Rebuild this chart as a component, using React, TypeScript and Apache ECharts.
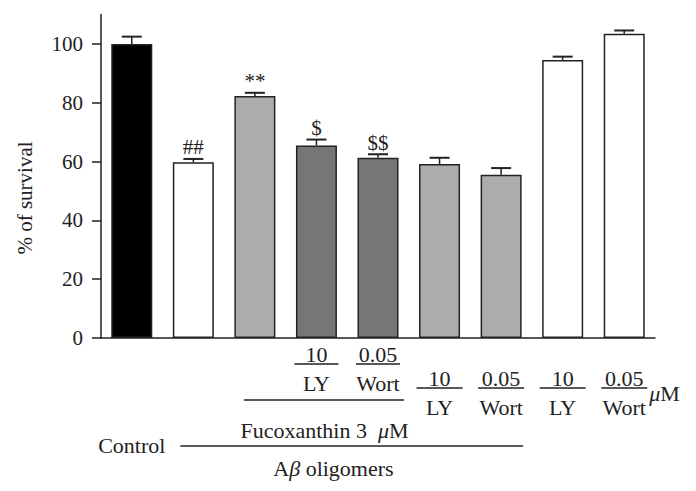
import React, { useEffect, useRef } from "react";
import * as echarts from "echarts";

const categories = ["Control", "Abeta", "Fx", "Fx+LY", "Fx+Wort", "Abeta+LY", "Abeta+Wort", "LY", "Wort"];
const means = [100, 59.8, 82.3, 65.5, 61.3, 59.2, 55.5, 94.6, 103.5];
const errors = [2.5, 1.1, 1.1, 2.0, 1.2, 2.1, 2.3, 1.1, 1.1];
const barColors = ["#000000", "#ffffff", "#acacac", "#767676", "#767676", "#acacac", "#acacac", "#ffffff", "#ffffff"];
const marks = ["", "##", "**", "$", "$$", "", "", "", ""];
const yTicks = [0, 20, 40, 60, 80, 100];
const doses = ["", "", "", "10", "0.05", "10", "0.05", "10", "0.05"];
const inhibitors = ["", "", "", "LY", "Wort", "LY", "Wort", "LY", "Wort"];

const FONT = '"Liberation Serif", "DejaVu Serif", serif';
const INK = "#222222";
const LBL = 22;

export default function App() {
  const ref = useRef<HTMLDivElement>(null);
  useEffect(() => {
    if (!ref.current) return;
    const chart = echarts.init(ref.current, null, { renderer: "svg" });
    chart.setOption({
      animation: false,
      grid: { left: 101, right: 41, top: 14.6, bottom: 153 },
      xAxis: {
        type: "category",
        data: categories,
        axisLine: { lineStyle: { color: INK, width: 1.5 } },
        axisTick: { show: false },
        axisLabel: { show: false },
      },
      yAxis: {
        type: "value",
        min: 0,
        max: 110,
        interval: 20,
        splitLine: { show: false },
        axisLine: { show: true, lineStyle: { color: INK, width: 1.5 } },
        axisTick: { show: true, length: 9, customValues: yTicks, lineStyle: { color: INK, width: 1.5 } },
        axisLabel: { customValues: yTicks, fontSize: 21, fontFamily: FONT, color: INK, margin: 18 },
      },
      series: [
        {
          type: "bar",
          barWidth: 41,
          data: means.map((v, i) => ({ value: v, itemStyle: { color: barColors[i] } })),
          itemStyle: { borderColor: INK, borderWidth: 1.5 },
        },
        {
          type: "custom",
          z: 5,
          data: means.map((m, i) => [i, m, errors[i]]),
          renderItem: (params: any, api: any) => {
            const i = api.value(0);
            const top = api.value(1);
            const err = api.value(2);
            const p0 = api.coord([i, top]);
            const p1 = api.coord([i, top + err]);
            const half = 10;
            const mark = marks[params.dataIndex];
            const children: any[] = [
              { type: "line", shape: { x1: p0[0], y1: p0[1], x2: p1[0], y2: p1[1] }, style: { stroke: INK, lineWidth: 1.5 } },
              { type: "line", shape: { x1: p1[0] - half, y1: p1[1], x2: p1[0] + half, y2: p1[1] }, style: { stroke: INK, lineWidth: 2 } },
            ];
            if (mark) {
              children.push({
                type: "text",
                style: { text: mark, x: p1[0], y: p1[1] - 1, align: "center", verticalAlign: "bottom", fontSize: 21, fontFamily: FONT, fill: INK },
              });
            }
            return { type: "group", children };
          },
        },
      ],
    });

    const xs = categories.map((_, i) => chart.convertToPixel({ xAxisIndex: 0 }, i) as number);
    const txt = (text: string, x: number, y: number, extra: any = {}) => ({
      type: "text",
      x,
      y,
      style: { text, align: "center", verticalAlign: "middle", fontSize: LBL, fontFamily: FONT, fill: INK, ...extra },
    });
    const ln = (x1: number, x2: number, y: number) => ({
      type: "line",
      shape: { x1, y1: y, x2, y2: y },
      style: { stroke: INK, lineWidth: 1.5 },
    });
    const rich = { i: { fontStyle: "italic", fontSize: LBL, fontFamily: FONT, fill: INK } };
    const g: any[] = [];
    for (let i = 3; i <= 4; i++) {
      g.push(txt(doses[i], xs[i], 354));
      g.push(ln(xs[i] - 22, xs[i] + 22, 364));
      g.push(txt(inhibitors[i], xs[i], 383));
    }
    for (let i = 5; i <= 8; i++) {
      g.push(txt(doses[i], xs[i], 378));
      g.push(ln(xs[i] - 23, xs[i] + 23, 388));
      g.push(txt(inhibitors[i], xs[i], 407));
    }
    g.push({
      type: "text",
      x: xs[8] + 25,
      y: 393,
      style: { text: "{i|μ}M", align: "left", verticalAlign: "middle", fontSize: LBL, fontFamily: FONT, fill: INK, rich },
    });
    g.push(ln(xs[2] - 11, xs[4] + 26, 400));
    g.push({
      type: "text",
      x: xs[3] + 8,
      y: 430,
      style: { text: "Fucoxanthin 3  {i|μ}M", align: "center", verticalAlign: "middle", fontSize: LBL, fontFamily: FONT, fill: INK, rich },
    });
    g.push(txt("Control", xs[0], 445));
    g.push(ln(xs[1] - 13, xs[6] + 22, 446));
    g.push({
      type: "text",
      x: xs[3] + 17,
      y: 468,
      style: { text: "A{i|β} oligomers", align: "center", verticalAlign: "middle", fontSize: LBL, fontFamily: FONT, fill: INK, rich },
    });
    g.push({
      type: "text",
      x: 25,
      y: 198,
      rotation: Math.PI / 2,
      style: { text: "% of survival", align: "center", verticalAlign: "middle", fontSize: 21, fontFamily: FONT, fill: INK },
    });
    chart.setOption({ graphic: g });

    return () => chart.dispose();
  }, []);
  return <div ref={ref} style={{ position: "absolute", left: 0, top: 0, width: 696, height: 491 }} />;
}
